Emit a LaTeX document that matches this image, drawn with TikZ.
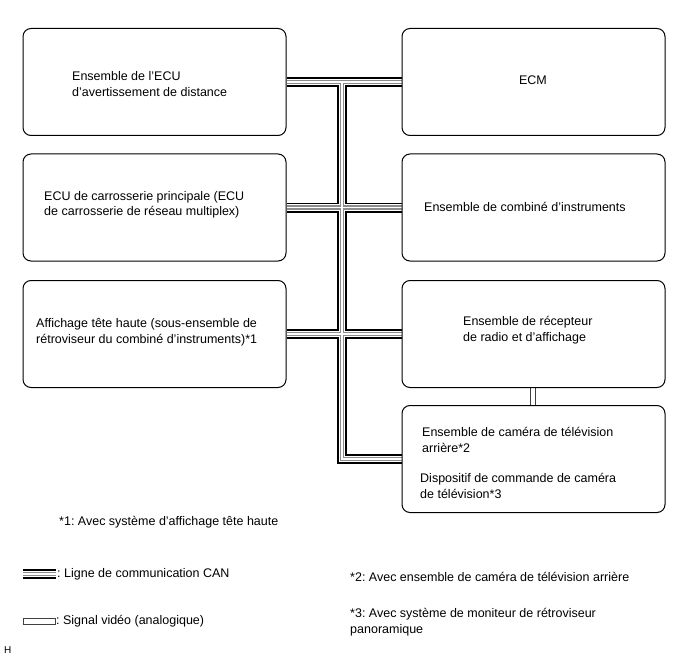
\documentclass[tikz,border=0pt]{standalone}
\usepackage{fontspec}
\setmainfont{Liberation Sans}
\usetikzlibrary{positioning,backgrounds}
\definecolor{busgray}{HTML}{8C8C8C}
\definecolor{vidgray}{HTML}{404040}
\frenchspacing
\tikzset{
  ecubox/.style={draw=black, line width=1pt, rounded corners=8pt, minimum width=263pt, minimum height=107pt, inner sep=0pt},
  lbl/.style={anchor=west, align=left, inner sep=0pt, font=\fontsize{12.5}{15.5}\selectfont},
  vidline/.style={draw=vidgray, line width=0.8pt, double=white, double distance=4.4pt},
}

\begin{document}
\begin{tikzpicture}[x=1pt,y=-1pt]
  \useasboundingbox (0,0) rectangle (688,658);
  % ECU boxes
  \node[ecubox] (l1) at (154.5,82) {};
  \node[ecubox] (l2) at (154.5,207.5) {};
  \node[ecubox] (l3) at (154.5,334) {};
  \node[ecubox] (r1) at (533.5,82) {};
  \node[ecubox] (r2) at (533.5,207.5) {};
  \node[ecubox] (r3) at (533.5,334) {};
  \node[ecubox] (r4) at (533.5,459) {};

  \node[lbl] (l1t) at (72,84) {Ensemble de l'ECU\\d'avertissement de distance};
  \node[lbl] (l2t) at (44,205) {ECU de carrosserie principale (ECU\\de carrosserie de réseau multiplex)};
  \node[lbl] (l3t) at (36,332) {Affichage tête haute (sous-ensemble de\\rétroviseur du combiné d'instruments)*1};
  \node[lbl, anchor=center] (r1t) at (533,80) {ECM};
  \node[lbl] (r2t) at (424,207) {Ensemble de combiné d'instruments};
  \node[lbl] (r3t) at (463,330) {Ensemble de récepteur\\de radio et d'affichage};
  \node[lbl] (r4t) at (422,440) {Ensemble de caméra de télévision\\arrière*2};
  \node[lbl] (r4u) at (420,486) {Dispositif de commande de caméra\\de télévision*3};

  % CAN bus
  \coordinate (jtop) at (342,82);
  \coordinate (jbot) at (342,459);
  \coordinate (cana) at (23,574);
  \coordinate (canb) at (56,574);
  \begin{scope}[on background layer]
    \foreach \w/\c in {10pt/black,6.6pt/white,4.4pt/busgray,1.6pt/white}{
      \draw[line width=\w, \c] (l1.east) -- (r1.west);
      \draw[line width=\w, \c] (l2.east) -- (r2.west);
      \draw[line width=\w, \c] (l3.east) -- (r3.west);
      \draw[line width=\w, \c, line join=miter] (jtop) -- (jbot) -- (r4.west);
      \draw[line width=\w, \c] (cana) -- (canb);
    }
    \draw[vidline] (r3.south -| 533,0) -- (r4.north -| 533,0);
  \end{scope}

  % legend
  \node[lbl] (n1) at (59,522) {*1: Avec système d'affichage tête haute};
  \node[lbl] (cant) at (57,574) {: Ligne de communication CAN};
  \node[draw=vidgray, line width=0.8pt, minimum width=32pt, minimum height=6pt, inner sep=0pt] (vidkey) at (39.5,621) {};
  \node[lbl] (vidt) at (vidkey.east) {: Signal vidéo (analogique)};
  \node[lbl] (n2) at (350,577) {*2: Avec ensemble de caméra de télévision arrière};
  \node[lbl] (n3) at (350,622) {*3: Avec système de moniteur de rétroviseur\\panoramique};
  \node[lbl, font=\fontsize{10}{11}\selectfont] (hmark) at (4,650) {H};
\end{tikzpicture}
\end{document}
